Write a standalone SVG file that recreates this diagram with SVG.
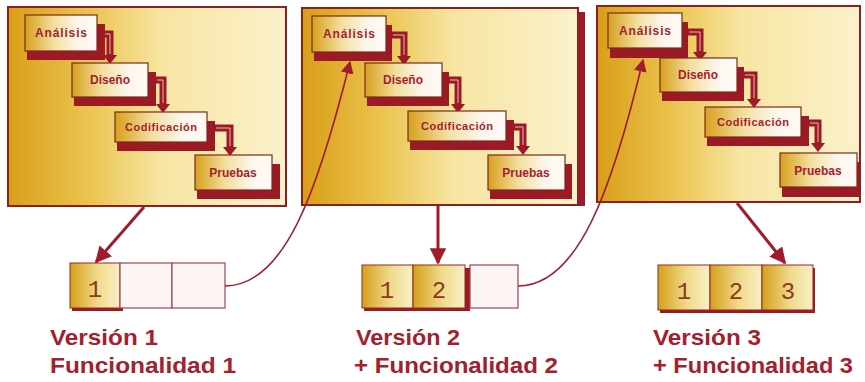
<svg xmlns="http://www.w3.org/2000/svg" width="865" height="382" viewBox="0 0 865 382">
<defs>
  <linearGradient id="panelGrad" x1="0" y1="0" x2="1" y2="0">
    <stop offset="0" stop-color="#d99e18"/>
    <stop offset="0.3" stop-color="#ebc552"/>
    <stop offset="0.55" stop-color="#f7e5a2"/>
    <stop offset="1" stop-color="#fbf2cc"/>
  </linearGradient>
  <linearGradient id="boxGrad" x1="0" y1="0" x2="1" y2="0">
    <stop offset="0" stop-color="#d7a01e"/>
    <stop offset="0.4" stop-color="#f3dfa0"/>
    <stop offset="0.75" stop-color="#fdf6ee"/>
    <stop offset="1" stop-color="#fffaf6"/>
  </linearGradient>
  <linearGradient id="cellGrad" x1="0" y1="0" x2="1" y2="0">
    <stop offset="0" stop-color="#d5a01a"/>
    <stop offset="0.55" stop-color="#f1d98a"/>
    <stop offset="1" stop-color="#faf0c6"/>
  </linearGradient>
  <clipPath id="clip3"><rect x="0" y="0" width="263" height="196"/></clipPath>
  <marker id="bigHead" viewBox="0 0 10 10" refX="9" refY="5" markerWidth="5.5" markerHeight="5.5" orient="auto" markerUnits="strokeWidth">
    <path d="M0,0 L10,5 L0,10 Z" fill="#a01c2c"/>
  </marker>
  <marker id="smallHead" viewBox="0 0 10 10" refX="9" refY="5" markerWidth="8" markerHeight="8" orient="auto" markerUnits="strokeWidth">
    <path d="M0,0 L10,5 L0,10 Z" fill="#a01c2c"/>
  </marker>
</defs>
<style>
  .panel { fill: url(#panelGrad); stroke: #8e1e22; stroke-width: 2; }
  .box { fill: url(#boxGrad); stroke: #7a2a1a; stroke-width: 1.2; }
  .shadow { fill: #9c1a26; }
  .step { fill: none; stroke: #9c1a26; stroke-width: 7; }
  .stepIn { fill: none; stroke: #e7b9b0; stroke-width: 1; }
  .head { fill: #9c1a26; }
  .lbl { font-family: "Liberation Sans", Arial, sans-serif; font-weight: bold; font-size: 12px; fill: #a61e2e; text-anchor: middle; }
  .cell { fill: url(#cellGrad); stroke: #8b2a20; stroke-width: 1; }
  .empty { fill: #fdf6f4; stroke: #a04552; stroke-width: 1.2; }
  .num { font-family: "Liberation Mono", "DejaVu Sans Mono", monospace; font-size: 24px; fill: #8b3a22; text-anchor: middle; }
  .ver { font-family: "Liberation Sans", Arial, sans-serif; font-weight: bold; font-size: 22px; fill: #a3202c; }
  .conn { fill: none; stroke: #a01c2c; }
</style>

<g id="panel1" transform="translate(8,7)">
  <rect class="panel" x="0" y="0" width="278" height="199"/>
  <rect class="shadow" x="19" y="17" width="78" height="36"/>
  <rect class="box" x="17" y="8" width="72" height="36"/>
  <text class="lbl" x="53" y="30" textLength="52">Análisis</text>
  <path class="step" d="M95,27 H102 V48"/><path class="stepIn" d="M97,27 H102 V47"/><path class="head" d="M95,48 L109,48 L102,57 Z"/>
  <rect class="shadow" x="66" y="65" width="82" height="34"/>
  <rect class="box" x="64" y="56" width="76" height="34"/>
  <text class="lbl" x="102" y="77">Diseño</text>
  <path class="step" d="M146,73 H155 V97"/><path class="stepIn" d="M149,73 H155 V96"/><path class="head" d="M148,97 L162,97 L155,106 Z"/>
  <rect class="shadow" x="109" y="114" width="98" height="30"/>
  <rect class="box" x="107" y="105" width="92" height="30"/>
  <text class="lbl" x="153" y="124" style="font-size:11px" textLength="72">Codificación</text>
  <path class="step" d="M205,121 H222 V140"/><path class="stepIn" d="M208,121 H222 V139"/><path class="head" d="M215,140 L229,140 L222,149 Z"/>
  <rect class="shadow" x="189" y="157" width="83" height="35"/>
  <rect class="box" x="187" y="148" width="77" height="35"/>
  <text class="lbl" x="225" y="170">Pruebas</text>
</g>

<g id="panel2" transform="translate(302,8)">
  <rect class="shadow" x="276" y="4" width="7" height="194"/>
  <rect class="panel" x="0" y="0" width="276" height="197"/>
  <rect class="shadow" x="12" y="17" width="78" height="36"/>
  <rect class="box" x="10" y="8" width="74" height="36"/>
  <text class="lbl" x="47" y="30" textLength="52">Análisis</text>
  <path class="step" d="M88,27 H102 V48"/><path class="stepIn" d="M91,27 H102 V47"/><path class="head" d="M95,48 L109,48 L102,57 Z"/>
  <rect class="shadow" x="65" y="64" width="82" height="34"/>
  <rect class="box" x="63" y="55" width="77" height="34"/>
  <text class="lbl" x="101" y="76">Diseño</text>
  <path class="step" d="M145,72 H156 V96"/><path class="stepIn" d="M148,72 H156 V95"/><path class="head" d="M149,96 L163,96 L156,105 Z"/>
  <rect class="shadow" x="108" y="112" width="104" height="30"/>
  <rect class="box" x="106" y="103" width="98" height="30"/>
  <text class="lbl" x="155" y="122" style="font-size:11px" textLength="72">Codificación</text>
  <path class="step" d="M210,119 H221 V138"/><path class="stepIn" d="M213,119 H221 V137"/><path class="head" d="M214,138 L228,138 L221,147 Z"/>
  <rect class="shadow" x="188" y="156" width="82" height="35"/>
  <rect class="box" x="186" y="147" width="77" height="35"/>
  <text class="lbl" x="224" y="169">Pruebas</text>
</g>

<g id="panel3" transform="translate(597,6)">
  <rect class="panel" x="0" y="0" width="263" height="196"/>
  <g clip-path="url(#clip3)">
    <rect class="shadow" x="13" y="16" width="78" height="36"/>
    <rect class="box" x="11" y="7" width="74" height="35"/>
    <text class="lbl" x="48" y="29" textLength="52">Análisis</text>
    <path class="step" d="M89,26 H103 V46"/><path class="stepIn" d="M92,26 H103 V45"/><path class="head" d="M96,46 L110,46 L103,55 Z"/>
    <rect class="shadow" x="65" y="61" width="82" height="34"/>
    <rect class="box" x="63" y="52" width="77" height="34"/>
    <text class="lbl" x="101" y="73">Diseño</text>
    <path class="step" d="M145,69 H157 V93"/><path class="stepIn" d="M148,69 H157 V92"/><path class="head" d="M150,93 L164,93 L157,102 Z"/>
    <rect class="shadow" x="110" y="110" width="102" height="30"/>
    <rect class="box" x="108" y="101" width="96" height="30"/>
    <text class="lbl" x="156" y="120" style="font-size:11px" textLength="72">Codificación</text>
    <path class="step" d="M210,117 H221 V137"/><path class="stepIn" d="M213,117 H221 V136"/><path class="head" d="M214,137 L228,137 L221,146 Z"/>
    <rect class="shadow" x="185" y="156" width="84" height="35"/>
    <rect class="box" x="183" y="147" width="77" height="34"/>
    <text class="lbl" x="221" y="169">Pruebas</text>
  </g>
  <rect x="0" y="0" width="263" height="196" fill="none" stroke="#8e1e22" stroke-width="2"/>
</g>

<g id="version1">
  <rect class="shadow" x="72" y="266" width="51" height="45"/>
  <rect class="cell" x="70" y="263" width="50" height="45"/>
  <text class="num" x="95" y="297">1</text>
  <rect class="empty" x="120" y="263" width="52" height="45"/>
  <rect class="empty" x="172" y="263" width="53" height="45"/>
  <text class="ver" x="50" y="345" textLength="108" lengthAdjust="spacingAndGlyphs">Versión 1</text>
  <text class="ver" x="50" y="373" textLength="186" lengthAdjust="spacingAndGlyphs">Funcionalidad 1</text>
</g>

<g id="version2">
  <rect class="shadow" x="364" y="268" width="106" height="43"/>
  <rect class="cell" x="362" y="265" width="51" height="43"/>
  <text class="num" x="387" y="298">1</text>
  <rect class="cell" x="413" y="265" width="52" height="43"/>
  <text class="num" x="439" y="298">2</text>
  <rect class="empty" x="470" y="265" width="48" height="43"/>
  <text class="ver" x="356" y="345" textLength="104" lengthAdjust="spacingAndGlyphs">Versión 2</text>
  <text class="ver" x="354" y="373" textLength="204" lengthAdjust="spacingAndGlyphs">+ Funcionalidad 2</text>
</g>

<g id="version3">
  <rect class="shadow" x="660" y="268" width="155" height="45"/>
  <rect class="cell" x="658" y="265" width="52" height="45"/>
  <text class="num" x="684" y="299">1</text>
  <rect class="cell" x="710" y="265" width="52" height="45"/>
  <text class="num" x="736" y="299">2</text>
  <rect class="cell" x="762" y="265" width="51" height="45"/>
  <text class="num" x="788" y="299">3</text>
  <text class="ver" x="653" y="345" textLength="108" lengthAdjust="spacingAndGlyphs">Versión 3</text>
  <text class="ver" x="653" y="373" textLength="200" lengthAdjust="spacingAndGlyphs">+ Funcionalidad 3</text>
</g>

<g id="connectors">
  <path class="conn" d="M144,207 L96,262" stroke-width="3" marker-end="url(#bigHead)"/>
  <path class="conn" d="M438,206 L438,263" stroke-width="3" marker-end="url(#bigHead)"/>
  <path class="conn" d="M737,203 L785,263" stroke-width="3" marker-end="url(#bigHead)"/>
  <path class="conn" d="M225,286 C285,286 318,190 350,62" stroke-width="1.6" marker-end="url(#smallHead)"/>
  <path class="conn" d="M518,286 C578,286 612,190 643,60" stroke-width="1.6" marker-end="url(#smallHead)"/>
</g>
</svg>
